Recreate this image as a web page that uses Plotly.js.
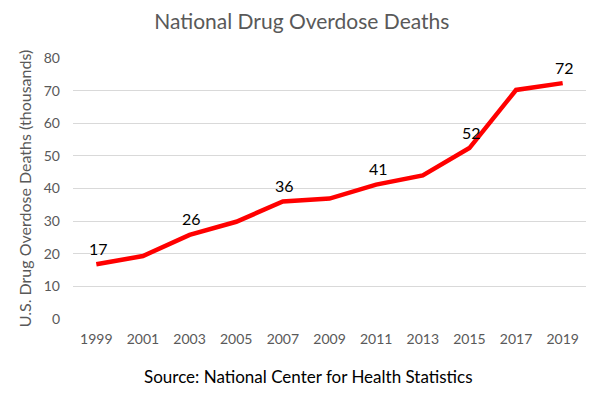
<!DOCTYPE html>
<html><head><meta charset="utf-8">
<script src="https://cdn.plot.ly/plotly-3.0.1.min.js"></script>
<style>html,body{margin:0;padding:0;background:#fff}#chart{width:600px;height:394px}</style>
</head><body><div id="chart"></div>
<script>
const years = [1999, 2001, 2003, 2005, 2007, 2009, 2011, 2013, 2015, 2017, 2019];
const deaths = [16.8, 19.3, 25.8, 29.8, 36.0, 36.9, 41.2, 44.0, 52.4, 70.2, 72.3];
const labels = ["17", "", "26", "", "36", "", "41", "", "52", "", "72"];
const tickVals = [1999, 2001, 2003, 2005, 2007, 2009, 2011, 2013, 2015, 2017, 2019];
const yTicks = [0, 10, 20, 30, 40, 50, 60, 70, 80];

const font = "Lato, 'Open Sans', sans-serif";
const trace = {
  x: years, y: deaths, type: 'scatter', mode: 'lines',
  line: {color: '#ff0000', width: 4.5},
  hoverinfo: 'none'
};
const labelAnns = [];
years.forEach((yr, i) => {
  if (labels[i]) labelAnns.push({
    x: yr, y: deaths[i], xref: 'x', yref: 'y', text: labels[i], showarrow: false,
    xanchor: 'center', yanchor: 'middle', yshift: 16, xshift: 2,
    font: {family: font, size: 16, color: '#000000'}
  });
});
const layout = {
  width: 600, height: 394,
  margin: {l: 73, r: 14, t: 58, b: 75},
  paper_bgcolor: '#fff', plot_bgcolor: '#fff',
  showlegend: false,
  title: {text: 'National Drug Overdose Deaths', font: {family: font, size: 21, color: '#595959'}, x: 0.503, xanchor: 'center', y: 0.945, yanchor: 'middle'},
  xaxis: {
    range: [1998, 2020], tickvals: tickVals, ticktext: tickVals.map(String),
    showgrid: false, zeroline: false, showline: false, ticks: '',
    tickfont: {family: font, size: 14, color: '#595959'}, ticklabelstandoff: 10
  },
  yaxis: {
    range: [0, 80], tickvals: yTicks, showgrid: true, gridcolor: '#d9d9d9', gridwidth: 1,
    zeroline: false, showline: false, ticks: '',
    tickfont: {family: font, size: 14, color: '#595959'}, ticklabelstandoff: 12,
    title: {text: 'U.S. Drug Overdose Deaths (thousands)', font: {family: font, size: 16, color: '#595959'}, standoff: 8}
  },
  annotations: labelAnns.concat([{
    text: 'Source: National Center for Health Statistics', xref: 'paper', yref: 'paper',
    x: 0.46, y: -0.222, xanchor: 'center', yanchor: 'middle', showarrow: false,
    font: {family: font, size: 17, color: '#000000'}
  }])
};
Plotly.newPlot('chart', [trace], layout, {staticPlot: true, displayModeBar: false});
</script></body></html>
